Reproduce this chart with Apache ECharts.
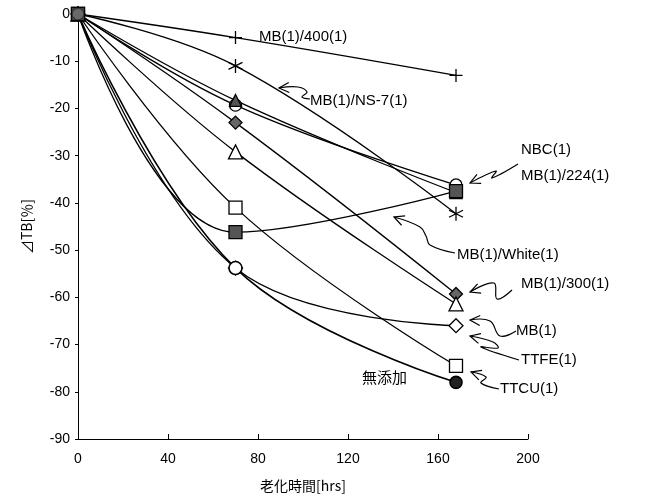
<!DOCTYPE html>
<html style="height: 100%">
<head>
<meta charset="utf-8" />
<title>TB</title>
<script type="text/javascript" src="https://cdn.jsdelivr.net/npm/echarts@6/dist/echarts.min.js"></script>
<style>
  body { margin: 0; background: #fff; }
  #container { width: 653px; height: 499px; }
</style>
</head>
<body>
<div id="container"></div>
<script type="text/javascript">
// 老化時間 (hrs)
var hours = [0, 70, 168];
var xTicks = [0, 40, 80, 120, 160, 200];
var yTicks = [0, -10, -20, -30, -40, -50, -60, -70, -80, -90];

// ⊿TB[%]
var mb400   = [0, -5, -13];
var mbNs7   = [0, -11, -42.3];
var nbc     = [0, -18.3, -37.8];
var mb224   = [0, -19.3, -36.2];
var mb300   = [0, -23, -59.3];
var openTri = [0, -29.2, -61.4];
var ttfe    = [0, -41, -74.5];
var mbWhite = [0, -46.2, -37.5];
var mb      = [0, -53.8, -66];
var mutenka = [0, -53.8, -78];

var font = "'Liberation Sans', 'Noto Sans CJK JP', sans-serif";
var jpFont = "'Noto Sans CJK JP', sans-serif";

function pts(vals) {
    return hours.map(function (h, i) { return [h, vals[i]]; });
}

function line(vals, symbol, size, fill) {
    return {
        type: 'line',
        data: pts(vals),
        smooth: 0.4,
        symbol: symbol,
        symbolSize: size,
        showAllSymbol: true,
        lineStyle: { color: '#000', width: 1.3 },
        itemStyle: { color: fill, borderColor: '#000', borderWidth: 1.3 },
        z: 3
    };
}

var plusPath = 'path://M5,0 L5,10 M0,5 L10,5';
var starPath = 'path://M5,0 L5,10 M0.7,2.5 L9.3,7.5 M0.7,7.5 L9.3,2.5';

var series = [
    line(mb400, plusPath, 13, 'none'),
    line(mbNs7, starPath, 14, 'none'),
    line(mb224, 'circle', 12, '#fff'),
    line(nbc, 'triangle', 12, '#555'),
    line(mb300, 'diamond', 13, '#666'),
    line(openTri, 'triangle', 14, '#fff'),
    line(ttfe, 'rect', 13, '#fff'),
    line(mbWhite, 'rect', 13, '#555'),
    line(mb, 'diamond', 14, '#fff'),
    {
        type: 'line',
        smooth: 0.4,
        showAllSymbol: true,
        symbol: 'circle',
        lineStyle: { color: '#000', width: 1.6 },
        data: pts(mutenka).map(function (p, i) {
            return {
                value: p,
                symbolSize: i === 1 ? 13 : 12,
                itemStyle: { color: i === 2 ? '#222' : '#fff', borderColor: '#000', borderWidth: 1.6 }
            };
        }),
        z: 4
    },
    // dark square at the origin, where all the markers overlap
    {
        type: 'scatter',
        data: [[hours[0], 0]],
        symbol: 'rect',
        symbolSize: 13,
        itemStyle: { color: '#444', borderColor: '#000', borderWidth: 1 },
        z: 5
    }
];

// wavy arrows pointing from labels to markers
function arrow(points) {
    var a = points[0], b = points[1];
    var dx = b[0] - a[0], dy = b[1] - a[1];
    var len = Math.sqrt(dx * dx + dy * dy);
    dx /= len; dy /= len;
    var hl = 10, hw = 5;
    var head = [
        [a[0] + dx * hl - dy * hw, a[1] + dy * hl + dx * hw],
        a,
        [a[0] + dx * hl + dy * hw, a[1] + dy * hl - dx * hw]
    ];
    return [
        { type: 'polyline', shape: { points: points, smooth: 0.4 }, style: { stroke: '#000', lineWidth: 1.2, fill: null }, z: 10 },
        { type: 'polyline', shape: { points: head }, style: { stroke: '#000', lineWidth: 1.2, fill: null }, z: 10 }
    ];
}

function label(text, x, y, f) {
    return { type: 'text', x: x, y: y, style: { text: text, font: '15px ' + (f || font), fill: '#000', textVerticalAlign: 'middle' }, z: 10 };
}

var graphics = [].concat(
    label('MB(1)/400(1)', 259, 37),
    label('MB(1)/NS-7(1)', 310, 101),
    arrow([[279, 88], [298, 87], [307, 92], [302, 97], [310, 99]]),
    label('NBC(1)', 521, 150),
    label('MB(1)/224(1)', 521, 176),
    arrow([[470, 183], [496, 171], [492, 178], [518, 164]]),
    label('MB(1)/White(1)', 457, 255),
    arrow([[394, 217], [420, 227], [426, 236], [430, 245], [455, 253]]),
    label('MB(1)/300(1)', 521, 284),
    arrow([[470, 292], [494, 283], [497, 299], [512, 290]]),
    label('MB(1)', 516, 331),
    arrow([[470, 320], [490, 321], [500, 336], [516, 331]]),
    label('TTFE(1)', 521, 360),
    arrow([[470, 336], [493, 342], [498, 348], [481, 347], [519, 360]]),
    label('無添加', 362, 377, jpFont),
    label('TTCU(1)', 500, 389),
    arrow([[471, 372], [486, 377], [481, 383], [499, 389]])
);

var myChart = echarts.init(document.getElementById('container'));
var option = {
    animation: false,
    backgroundColor: '#fff',
    grid: { left: 78, right: 125, top: 14, bottom: 60, containLabel: false },
    xAxis: {
        type: 'value',
        min: xTicks[0],
        max: xTicks[xTicks.length - 1],
        interval: 40,
        name: '老化時間[hrs]',
        nameLocation: 'middle',
        nameGap: 40,
        nameTextStyle: { fontFamily: jpFont, fontSize: 14, color: '#000' },
        axisLine: { onZero: false, lineStyle: { color: '#000', width: 1 } },
        axisTick: { inside: true, length: 5, lineStyle: { color: '#000' } },
        axisLabel: { color: '#000', fontFamily: font, fontSize: 14, margin: 13 },
        splitLine: { show: false }
    },
    yAxis: {
        type: 'value',
        min: yTicks[yTicks.length - 1],
        max: yTicks[0],
        interval: 10,
        name: '⊿TB[％]',
        nameLocation: 'middle',
        nameRotate: 90,
        nameGap: 44,
        nameTextStyle: { fontFamily: jpFont, fontSize: 14, color: '#000' },
        axisLine: { show: true, onZero: false, lineStyle: { color: '#000', width: 1 } },
        axisTick: { show: true, length: 3, lineStyle: { color: '#000' } },
        axisLabel: { color: '#000', fontFamily: font, fontSize: 14, margin: 8 },
        splitLine: { show: false }
    },
    series: series,
    graphic: graphics
};
myChart.setOption(option);
</script>
</body>
</html>
